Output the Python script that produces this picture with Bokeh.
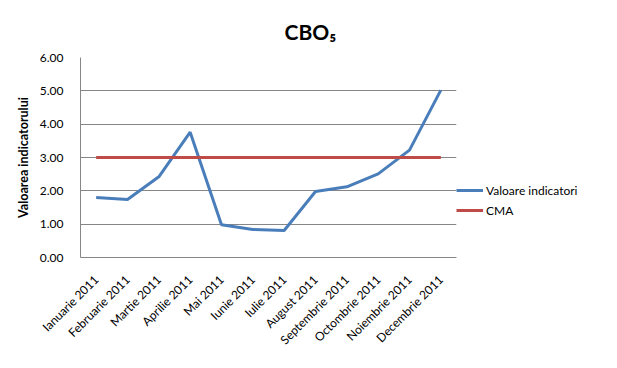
import math
from bokeh.plotting import figure
from bokeh.models import (FactorRange, Range1d, NumeralTickFormatter, FixedTicker,
                          Legend, LegendItem)
from bokeh.embed import file_html
from bokeh.resources import INLINE

months = ["Ianuarie 2011", "Februarie 2011", "Martie 2011", "Aprilie 2011",
          "Mai 2011", "Iunie 2011", "Iulie 2011", "August 2011",
          "Septembrie 2011", "Octombrie 2011", "Noiembrie 2011", "Decembrie 2011"]
valoare = [1.80, 1.74, 2.42, 3.76, 0.98, 0.84, 0.81, 1.98, 2.12, 2.51, 3.22, 5.02]
cma = [3.0, 3.0, 3.0, 3.0, 3.0, 3.0, 3.0, 3.0, 3.0, 3.0, 3.0, 3.0]
y_ticks = [0, 1, 2, 3, 4, 5, 6]

FONT = "Lato"
GRID = "#868686"

p = figure(x_range=FactorRange(*months), y_range=Range1d(0, 6),
           frame_width=376, frame_height=200, output_backend="svg",
           toolbar_location=None,
           min_border_left=80, min_border_right=0, min_border_top=57,
           min_border_bottom=94, title="CBO\u2085")

p.title.text_font = FONT
p.title.text_font_size = "21px"
p.title.text_font_style = "bold"
p.title.text_color = "black"
p.title.align = "left"
p.title.offset = 204
p.title.standoff = 28

p.outline_line_color = None
p.background_fill_color = "white"
p.border_fill_color = "white"

r1 = p.line(months, valoare, line_color="#4A7EBB", line_width=3)
r2 = p.line(months, cma, line_color="#BE4B48", line_width=3)

p.xgrid.grid_line_color = None
p.ygrid.grid_line_color = GRID
p.ygrid.grid_line_width = 1
p.yaxis.ticker = FixedTicker(ticks=y_ticks)
p.yaxis.formatter = NumeralTickFormatter(format="0.00")
p.yaxis.axis_line_color = GRID
p.xaxis.axis_line_color = GRID
for ax in (p.xaxis, p.yaxis):
    ax.major_tick_line_color = None
    ax.minor_tick_line_color = None
    ax.major_label_text_font = FONT
    ax.major_label_text_color = "black"
p.yaxis.major_label_text_font_size = "12px"
p.xaxis.major_label_text_font_size = "12px"
p.yaxis.major_label_standoff = 11
p.xaxis.major_label_standoff = 14
p.xaxis.major_label_orientation = math.pi / 4
p.yaxis.axis_label = "Valoarea indicatorului"
p.yaxis.axis_label_text_font = FONT
p.yaxis.axis_label_text_font_size = "12.5px"
p.yaxis.axis_label_text_font_style = "bold"
p.yaxis.axis_label_text_color = "black"
p.yaxis.axis_label_standoff = 6

legend = Legend(items=[LegendItem(label="Valoare indicatori", renderers=[r1]),
                       LegendItem(label="CMA", renderers=[r2])],
                location="top_left", border_line_color=None,
                background_fill_alpha=0, label_text_font=FONT,
                label_text_font_size="12px", label_text_color="black",
                glyph_width=27, spacing=0, padding=10, margin=0, label_standoff=3,
                title=" ", title_text_font_size="1px", title_standoff=122)
p.add_layout(legend, "right")

open("out.html", "w").write(file_html(p, INLINE))
